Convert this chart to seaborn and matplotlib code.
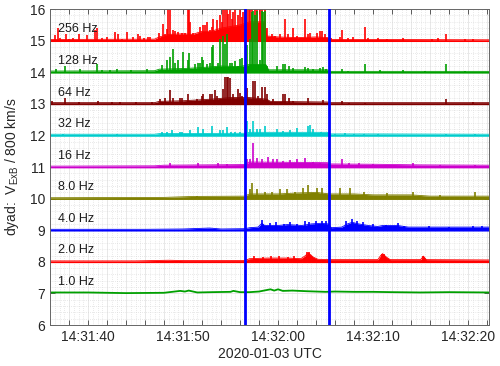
import numpy as np
import pandas as pd
import matplotlib
matplotlib.use("Agg")
import matplotlib.pyplot as plt
from matplotlib.ticker import MultipleLocator, FuncFormatter
import seaborn as sns

sns.set_style("ticks")
plt.rcParams["font.family"] = ["Liberation Sans", "DejaVu Sans"]
plt.rcParams["mathtext.fontset"] = "custom"
plt.rcParams["mathtext.rm"] = "Liberation Sans"

T0 = pd.Timestamp("2020-01-03 14:31:00")   # times below are seconds after T0

BANDS = ["256 Hz", "128 Hz", "64 Hz", "32 Hz", "16 Hz", "8.0 Hz", "4.0 Hz", "2.0 Hz", "1.0 Hz"]
OFFSETS = [15, 14, 13, 12, 11, 10, 9, 8, 7]
COLORS = ["#ff0000", "#00a000", "#800000", "#00cccc", "#cc00cc",
          "#808000", "#0000ff", "#ff0000", "#00a000"]
EVENT_T = [56.5, 65.4]

# noise floor (upper envelope) per band: (sec, height above offset)
f256 = [(36, 0.04), (47, 0.05), (47.5, 0.12), (48.5, 0.2), (50, 0.22), (51, 0.2), (52, 0.3),
        (53, 0.3), (54, 0.4), (55, 0.45), (56, 0.5), (57, 0.6), (58.6, 0.6), (58.8, 0.15),
        (60, 0.12), (62, 0.1), (64, 0.12), (65.2, 0.1), (65.5, 0.04), (70, 0.04), (82.2, 0.03)]
f128 = [(36, 0.04), (47, 0.05), (47.5, 0.1), (50, 0.12), (52, 0.15), (54, 0.2), (56, 0.18),
        (57, 0.25), (58.7, 0.25), (59, 0.08), (65.2, 0.08), (65.5, 0.03), (82.2, 0.03)]
f64 = [(36, 0.04), (47, 0.04), (47.5, 0.08), (50, 0.1), (53, 0.15), (55, 0.2), (57, 0.2),
       (58.8, 0.15), (59.2, 0.08), (65.2, 0.06), (65.5, 0.04), (82.2, 0.04)]
f32 = [(36, 0.04), (47, 0.04), (47.5, 0.06), (56.5, 0.07), (57, 0.1), (65.2, 0.1),
       (65.5, 0.05), (70, 0.05), (82.2, 0.04)]
f16 = [(36, 0.03), (47, 0.04), (48, 0.06), (56.5, 0.08), (57, 0.16), (65.2, 0.14),
       (65.5, 0.1), (70, 0.09), (75, 0.07), (82.2, 0.06)]
f8 = [(36, 0.03), (48, 0.04), (51, 0.07), (56.5, 0.08), (57, 0.15), (60, 0.15), (62, 0.18),
      (64, 0.2), (65.4, 0.15), (66, 0.15), (68, 0.15), (70, 0.12), (74, 0.12), (76, 0.08),
      (82.2, 0.08)]
f4 = [(36, 0.03), (46, 0.03), (50, 0.04), (52.8, 0.07), (54, 0.04), (56.5, 0.05), (57, 0.08),
      (57.9, 0.1), (58.3, 0.22), (58.6, 0.15), (60, 0.15), (61, 0.18), (62.5, 0.15),
      (63.5, 0.2), (64.5, 0.22), (65.3, 0.2), (65.6, 0.08), (66.7, 0.1), (67.3, 0.2),
      (67.8, 0.25), (68.5, 0.2), (69.5, 0.15), (70.5, 0.12), (71, 0.15), (72.6, 0.15),
      (73.7, 0.1), (82.2, 0.1)]
f2 = [(36, 0.03), (45, 0.03), (48.5, 0.05), (50, 0.04), (56.5, 0.04), (57, 0.1), (59, 0.12),
      (61, 0.12), (62.4, 0.1), (62.8, 0.18), (63.2, 0.28), (63.7, 0.15), (64.2, 0.08),
      (65.4, 0.07), (70.5, 0.07), (70.8, 0.2), (71.0, 0.26), (71.4, 0.15), (71.8, 0.07),
      (75.0, 0.07), (75.3, 0.18), (75.6, 0.07), (82.2, 0.06)]
# 1 Hz is a thin wavy line (centre values)
f1 = [(36, 0.03), (40, 0.03), (44, 0.01), (48, 0.02), (49.7, 0.08), (50.2, 0.06), (50.6, 0.09),
      (51.5, 0.03), (53, 0.04), (55, 0.05), (55.3, 0.08), (56, 0.04), (57, 0.04), (58, 0.06),
      (59.2, 0.13), (59.6, 0.09), (60, 0.13), (60.5, 0.08), (61.5, 0.09), (63, 0.07), (65, 0.05),
      (66, 0.06), (68, 0.05), (70, 0.05), (72, 0.04), (75, 0.03), (78, 0.04), (82.2, 0.03)]

# spikes per band: (sec, peak height above offset)
s256 = [(36.5, 0.18), (36.8, 0.40), (37.0, 0.08), (37.7, 0.2), (38.0, 0.07), (38.4, 0.1),
        (39.1, 0.2), (39.9, 0.18), (40.7, 0.34), (40.9, 0.4), (41.5, 0.08), (42.0, 0.12),
        (42.8, 0.27), (43.2, 0.2), (43.6, 0.07), (44.1, 0.27), (44.7, 0.12), (45.3, 0.2),
        (45.5, 0.15), (45.9, 0.08), (46.3, 0.12), (46.5, 0.12),
        (47.5, 0.23), (47.9, 0.52), (48.1, 0.2), (48.3, 0.38), (48.4, 1.05), (48.6, 0.97),
        (48.9, 0.34), (49.2, 0.3), (49.5, 0.28), (49.9, 0.25), (50.2, 0.23), (50.5, 1.05),
        (50.6, 1.05), (50.7, 0.6), (51.1, 0.25), (51.5, 0.2), (51.8, 0.44), (52.1, 0.5),
        (52.3, 0.5), (52.5, 0.6), (52.8, 0.35), (53.1, 0.45), (53.2, 0.7), (53.4, 0.3),
        (53.6, 0.65), (53.9, 0.8), (54.1, 0.6), (54.2, 1.05), (54.4, 1.05), (54.6, 1.05),
        (54.7, 0.85), (54.9, 1.05), (55.2, 0.7), (55.3, 0.9), (55.5, 1.05), (55.8, 0.8),
        (56.0, 1.05), (56.2, 0.75), (56.3, 0.9), (56.5, 1.05), (56.7, 1.05), (56.9, 1.05),
        (57.1, 1.05), (57.3, 1.05), (57.6, 1.05), (57.8, 1.05), (58.1, 1.05), (58.3, 1.05),
        (58.6, 1.05), (58.8, 0.4),
        (59.4, 0.2), (59.7, 0.15), (60.2, 0.2), (60.7, 0.68), (61.0, 0.2), (61.6, 0.4),
        (62.0, 0.15), (62.8, 0.68), (63.2, 0.2), (63.4, 0.25), (64.1, 0.25), (64.4, 0.3),
        (64.6, 0.3), (64.9, 0.2),
        (65.6, 0.08), (66.5, 0.12), (66.7, 0.33), (67.4, 0.1), (67.9, 0.12), (69.2, 0.45),
        (69.5, 0.1), (70.5, 0.08), (71.5, 0.06), (73.1, 0.1), (76.2, 0.06), (76.8, 0.08),
        (77.7, 0.22), (79.7, 0.05), (80.5, 0.04)]
s128 = [(36.6, 0.1), (37.6, 0.2), (39.2, 0.1), (40.9, 0.26), (41.5, 0.08), (42.3, 0.08),
        (43.0, 0.1), (44.5, 0.06), (46.2, 0.1),
        (47.8, 0.23), (48.3, 0.38), (48.6, 0.47), (48.9, 0.73), (49.2, 0.3), (49.5, 0.4),
        (50.0, 0.63), (50.5, 0.4), (50.6, 0.6), (51.3, 0.25), (51.6, 0.3), (51.8, 0.3),
        (52.0, 0.5), (52.1, 0.4), (52.5, 0.25), (52.8, 0.3), (53.1, 0.8), (53.2, 0.85),
        (53.7, 0.3), (53.9, 1.05), (54.2, 1.15), (54.4, 0.9), (54.6, 1.2), (54.9, 0.3),
        (55.2, 0.3), (55.5, 0.35), (55.8, 0.2), (56.0, 0.42), (56.2, 0.45), (56.7, 0.85),
        (57.1, 1.05), (57.3, 1.9), (57.4, 1.95), (57.6, 1.8), (57.8, 1.95), (58.1, 0.4),
        (58.3, 1.95), (58.4, 1.9), (58.6, 1.95), (58.8, 0.2),
        (59.9, 0.2), (60.5, 0.25), (60.7, 0.25), (61.1, 0.2), (61.6, 0.15), (62.8, 0.18),
        (63.1, 0.15), (63.7, 0.12), (64.4, 0.15), (64.7, 0.18), (65.0, 0.1),
        (66.7, 0.1), (67.4, 0.05), (69.1, 0.25), (70.7, 0.06), (73.1, 0.08), (75.5, 0.05),
        (77.7, 0.25), (79.7, 0.04)]
s64 = [(36.2, 0.08), (37.6, 0.2), (39.0, 0.05), (41.1, 0.1), (42.5, 0.06), (43.4, 0.06),
       (45.0, 0.05), (46.7, 0.05),
       (47.6, 0.16), (48.1, 0.2), (48.6, 0.43), (48.9, 0.2), (49.7, 0.2), (49.9, 0.2),
       (50.5, 0.3), (51.5, 0.15), (52.0, 0.25), (52.1, 0.3), (52.8, 0.3), (53.1, 0.32),
       (53.4, 0.45), (53.6, 0.25), (54.2, 0.47), (54.4, 0.85), (54.6, 0.84), (54.7, 0.85),
       (54.9, 0.82), (55.3, 0.3), (55.8, 0.47), (56.0, 0.35), (56.2, 0.25), (56.7, 0.5),
       (57.4, 0.74), (57.6, 0.74), (57.9, 0.25), (58.3, 0.55), (58.6, 0.55), (58.8, 0.3),
       (59.5, 0.15), (60.5, 0.3), (60.7, 0.3), (61.1, 0.2), (61.6, 0.1), (63.2, 0.2),
       (64.7, 0.12),
       (66.7, 0.08), (67.5, 0.04), (69.2, 0.04), (77.7, 0.15), (80.5, 0.06)]
s32 = [(37.4, 0.05), (40.5, 0.03), (43.0, 0.04), (47.8, 0.1), (48.3, 0.1), (48.8, 0.16),
       (49.7, 0.1), (49.9, 0.12), (50.7, 0.16), (51.6, 0.28), (52.1, 0.2), (53.1, 0.31),
       (53.9, 0.16), (54.2, 0.16), (54.6, 0.26), (55.0, 0.1), (55.5, 0.1), (56.0, 0.1),
       (56.7, 0.47), (57.1, 0.2), (57.4, 0.47), (57.8, 0.2), (58.1, 0.2), (58.6, 0.31),
       (59.9, 0.2), (60.5, 0.15), (61.3, 0.16), (62.0, 0.25), (63.2, 0.31), (63.4, 0.33),
       (63.7, 0.2), (64.5, 0.1),
       (66.0, 0.06), (67.0, 0.08), (68.0, 0.05), (69.0, 0.05), (70.5, 0.04), (77.7, 0.05),
       (80.7, 0.05)]
s16 = [(48.6, 0.13), (51.6, 0.13), (53.7, 0.12), (54.6, 0.1), (56.7, 0.26), (57.1, 0.26),
       (57.4, 0.75), (57.8, 0.3), (58.3, 0.25), (58.9, 0.32), (59.5, 0.25), (59.9, 0.25),
       (60.5, 0.2), (61.3, 0.22), (62.0, 0.25), (62.8, 0.3), (63.7, 0.15), (64.4, 0.12),
       (66.7, 0.25), (67.5, 0.12), (68.5, 0.12), (70.0, 0.1), (74.2, 0.12), (77.0, 0.06),
       (80.7, 0.06)]
s8 = [(51.5, 0.1), (57.1, 0.3), (57.3, 0.5), (57.8, 0.3), (58.6, 0.22), (59.4, 0.2),
      (60.2, 0.3), (60.9, 0.3), (61.8, 0.22), (62.6, 0.33), (63.2, 0.42), (64.1, 0.33),
      (64.6, 0.33), (66.5, 0.33), (67.6, 0.33), (69.0, 0.2), (71.5, 0.18), (74.2, 0.2),
      (77.0, 0.12), (80.7, 0.2)]
s4 = [(58.3, 0.33), (59.1, 0.22), (59.8, 0.25), (60.6, 0.2), (61.3, 0.25), (62.0, 0.2),
      (62.8, 0.3), (63.3, 0.25), (64.0, 0.3), (64.6, 0.28), (65.0, 0.3), (67.2, 0.28),
      (67.8, 0.35), (68.3, 0.3), (68.9, 0.25), (70.0, 0.2), (71.4, 0.18), (72.6, 0.22),
      (73.3, 0.15), (75.9, 0.12), (78.0, 0.1), (80.5, 0.12), (81.5, 0.15)]
s2 = [(57.5, 0.18), (58.4, 0.15), (59.3, 0.17), (60.1, 0.2), (61.0, 0.15), (61.7, 0.18),
      (63.0, 0.3), (63.3, 0.3), (70.9, 0.26), (71.1, 0.25), (75.3, 0.19)]
s1 = []

FLOORS = [f256, f128, f64, f32, f16, f8, f4, f2, f1]
SPIKES = [s256, s128, s64, s32, s16, s8, s4, s2, s1]


def time_label(x, pos):
    ts = (T0 + pd.Timedelta(seconds=float(x))).round("s")
    return ts.strftime("%H:%M:%S") if ts.second % 10 == 0 else ""


fig = plt.figure(figsize=(5.0, 3.66), dpi=100)
ax = fig.add_axes([0.100, 0.112, 0.878, 0.863])

for band, off, col, floor, spikes in zip(BANDS, OFFSETS, COLORS, FLOORS, SPIKES):
    df = pd.DataFrame(floor, columns=["t", "v"])
    df["y"] = df["v"] + off
    if band == "1.0 Hz":
        sns.lineplot(data=df, x="t", y="y", color=col, lw=1.3, ax=ax, estimator=None)
    else:
        sns.lineplot(data=df, x="t", y="y", color=col, lw=0.6, ax=ax, estimator=None)
        ax.fill_between(df["t"], off - 0.025, df["y"], color=col, lw=0)
    if spikes:
        st, sv = zip(*spikes)
        ax.vlines(st, off, np.asarray(sv) + off, color=col, lw=1.2)
    ax.text(36.85, off + 0.36, band, fontsize=9, ha="left", va="center",
            color="#1a1a1a", zorder=6)

for t in EVENT_T:
    ax.axvline(t, color="#0000ff", lw=2.0, zorder=7)

ax.set_xlim(36.0, 82.2)
ax.set_ylim(6, 16)
ax.xaxis.set_major_locator(MultipleLocator(2))
ax.xaxis.set_minor_locator(MultipleLocator(0.5))
ax.xaxis.set_major_formatter(FuncFormatter(time_label))
ax.yaxis.set_major_locator(MultipleLocator(1))
ax.yaxis.set_minor_locator(MultipleLocator(0.2))
ax.set_axisbelow(True)
ax.grid(which="major", color="#e4e4e4", lw=0.6, ls="-")
ax.grid(which="minor", color="#d4d4d4", lw=0.5, ls=(0, (1, 2)))
ax.tick_params(which="major", direction="in", length=3.5, width=0.6, color="#444444",
               top=True, right=True, labelsize=10, labelcolor="#262626")
ax.tick_params(which="minor", length=0)
for sp in ax.spines.values():
    sp.set_visible(True)
    sp.set_color("#666666")
    sp.set_linewidth(0.7)

ax.set_xlabel("2020-01-03 UTC", fontsize=10, color="#262626", labelpad=2)
ax.set_ylabel(r"dyad:  V$_{\mathrm{ExB}}$ / 800 km/s", fontsize=10, color="#262626")
ax.yaxis.set_label_coords(-0.066, 0.5)

fig.savefig("out.png", dpi=100)
